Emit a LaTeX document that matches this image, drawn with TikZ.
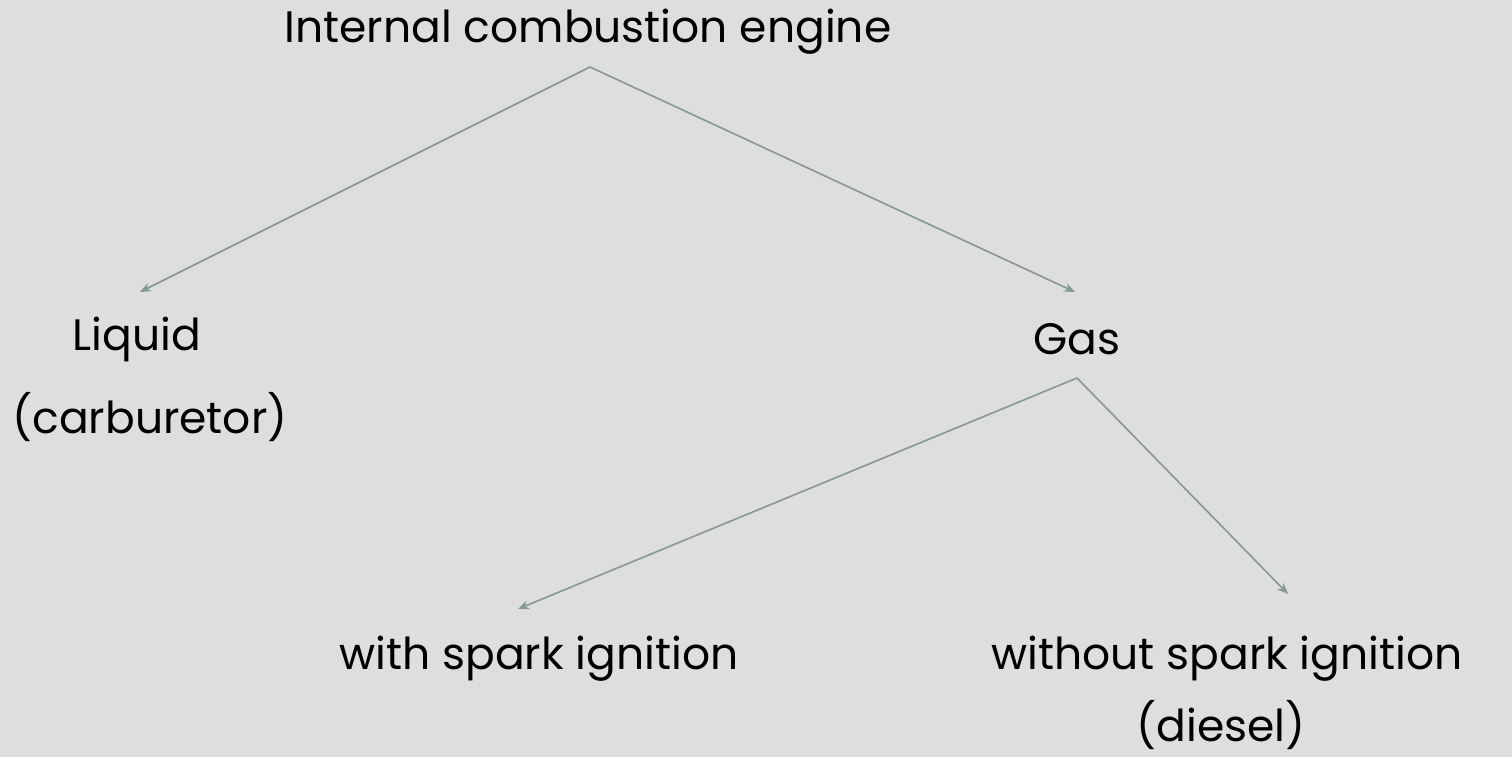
\documentclass[tikz,border=0pt]{standalone}
\usepackage{fontspec}
\setmainfont{Poppins}
\usetikzlibrary{arrows.meta}
\definecolor{bgcol}{HTML}{DEDEDE}
\definecolor{linkcol}{HTML}{849A8D}
\begin{document}
\begin{tikzpicture}[x=1pt,y=-1pt,
  label/.style={inner sep=0pt,font=\fontsize{44}{52}\selectfont,text=black,anchor=base},
  link/.style={draw=linkcol,line width=1.6pt,-{Stealth[length=11pt,width=9pt,inset=3.5pt]}}]
  \fill[bgcol] (0,0) rectangle (1512,757);
  \useasboundingbox (0,0) rectangle (1512,757);

  % labels
  \node[label] (ice) at (588,43) {Internal combustion engine};
  \node[label] (liq) at (137,350) {Liquid};
  \node[label] (carb) at (150,433) {(carburetor)};
  \node[label] (gas) at (1077,354) {Gas};
  \node[label] (spark) at (539,669) {with spark ignition};
  \node[label] (nospark) at (1227,669) {without spark ignition};
  \node[label] (diesel) at (1221,741) {(diesel)};

  % branching points and arrow ends
  \coordinate (iceroot) at (590,67);
  \coordinate (liqin) at (140,292);
  \coordinate (gasin) at (1075,292);
  \coordinate (gasroot) at (1077,378);
  \coordinate (sparkin) at (518,609);
  \coordinate (nosparkin) at (1288,594);

  \draw[link] (iceroot) -- (liqin);
  \draw[link] (iceroot) -- (gasin);
  \draw[link] (gasroot) -- (sparkin);
  \draw[link] (gasroot) -- (nosparkin);
\end{tikzpicture}
\end{document}
